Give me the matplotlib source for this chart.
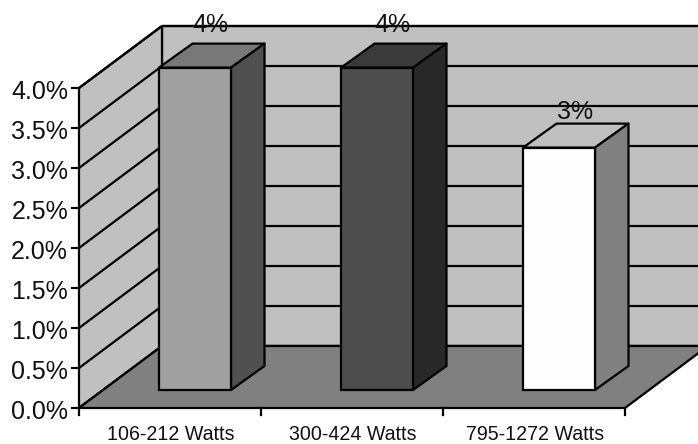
import matplotlib
matplotlib.use('Agg')
import matplotlib.pyplot as plt
from matplotlib.patches import Polygon

plt.rcParams['font.family'] = ['Liberation Sans', 'DejaVu Sans']

categories = ['106-212 Watts', '300-424 Watts', '795-1272 Watts']
values = [4.03, 4.03, 3.03]
value_labels = ['4%', '4%', '3%']
y_ticks = [0.0, 0.5, 1.0, 1.5, 2.0, 2.5, 3.0, 3.5, 4.0]
y_tick_labels = ['0.0%', '0.5%', '1.0%', '1.5%', '2.0%', '2.5%', '3.0%', '3.5%', '4.0%']

front_colors = ['#a0a0a0', '#4d4d4d', '#fdfdfd']
top_colors = ['#787878', '#3a3a3a', '#c0c0c0']
side_colors = ['#505050', '#282828', '#808080']

# one category is 182 px wide, 1% is 80 px high
W, H = 698, 444
X0, Y0, CAT, PCT = 79, 408, 182.0, 80.0
fig = plt.figure(figsize=(W / 100, H / 100), dpi=100)
ax = fig.add_axes([0, 0, 1, 1])
ax.set_xlim(-X0 / CAT, (W - X0) / CAT)
ax.set_ylim((Y0 - H) / PCT, Y0 / PCT)
ax.axis('off')

lw = 1.6
n = len(categories)
top = max(y_ticks)
# oblique depth of the chart box and of the bars
dx, dy = 83 / CAT, 62 / PCT
bar_dx, bar_dy = 33.5 / CAT, 24 / PCT
off_x, off_y = 25 / CAT, 18 / PCT
bar_w = 72 / CAT
# gap in px between the bar's back edge and the label baseline
label_gaps = [12, 12, 5]


def poly(pts, color, z):
    ax.add_patch(Polygon(pts, closed=True, facecolor=color, edgecolor='black',
                         linewidth=lw, joinstyle='round', zorder=z))


# back wall, side wall, floor
poly([(dx, dy), (n + dx, dy), (n + dx, top + dy), (dx, top + dy)], '#c0c0c0', 1)
poly([(0, 0), (dx, dy), (dx, top + dy), (0, top)], '#c0c0c0', 1)
poly([(0, 0), (n, 0), (n + dx, dy), (dx, dy)], '#808080', 2)

for t in y_ticks:
    ax.plot([0, dx, n + dx], [t, t + dy, t + dy], color='black', lw=lw, zorder=1.5)
    ax.plot([-7 / CAT, 0], [t, t], color='black', lw=lw, zorder=3)
for i in range(n + 1):
    ax.plot([i, i], [0, -7 / PCT], color='black', lw=lw, zorder=3)

for t, lab in zip(y_ticks, y_tick_labels):
    ax.text(-11 / CAT, t - 4 / PCT, lab, ha='right', va='center', fontsize=18, color='#111111', zorder=6)

for i, v in enumerate(values):
    x0 = i + 0.5 - bar_w / 2 + off_x
    x1 = x0 + bar_w
    ax.bar(x0, v, width=bar_w, bottom=off_y, align='edge', color=front_colors[i],
           edgecolor='black', linewidth=lw, zorder=5)
    t = off_y + v
    poly([(x0, t), (x1, t), (x1 + bar_dx, t + bar_dy), (x0 + bar_dx, t + bar_dy)], top_colors[i], 4)
    poly([(x1, off_y), (x1 + bar_dx, off_y + bar_dy), (x1 + bar_dx, t + bar_dy), (x1, t)], side_colors[i], 4)
    ax.text(i + 0.5 + off_x + bar_dx / 2 - 1 / CAT, t + bar_dy + label_gaps[i] / PCT, value_labels[i],
            ha='center', va='baseline', fontsize=18, color='#111111', zorder=6)
    ax.text(i + 0.5 + 1 / CAT, -32 / PCT, categories[i], ha='center', va='baseline', fontsize=14.1,
            color='#111111', zorder=6)

fig.savefig('out.png', dpi=100)
